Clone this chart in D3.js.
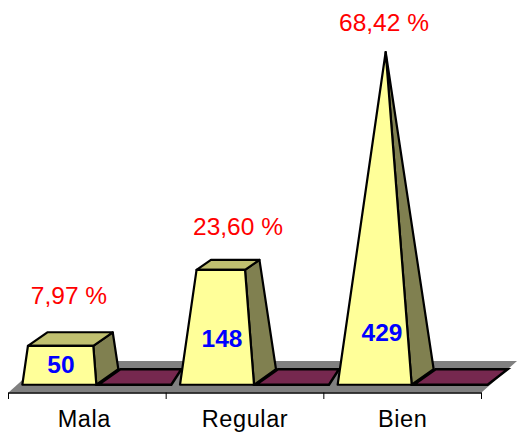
<!DOCTYPE html>
<html>
<head>
<meta charset="utf-8">
<script src="https://cdn.jsdelivr.net/npm/d3@7"></script>
<style>
  html, body { margin: 0; padding: 0; background: #fff; }
  svg { display: block; }
  text { font-family: "Liberation Sans", Arial, sans-serif; }
</style>
</head>
<body>
<div id="chart"></div>
<script>
// chart data
var categories = ["Mala", "Regular", "Bien"];
var counts = [50, 148, 429];
var percents = ["7,97 %", "23,60 %", "68,42 %"];
var emptySeries = [0, 0, 0];

var width = 517, height = 432;

var svg = d3.select("#chart").append("svg")
  .attr("width", width)
  .attr("height", height);

// x positions along the front edge of the floor
var x = d3.scaleBand()
  .domain(categories)
  .range([8.5, 481.5]);

// height above the floor, measured at the middle of the base
var y = d3.scaleLinear()
  .domain([0, 429])
  .range([377, 52]);

// pyramids get narrower going up, the tip is at the max value
var taper = d3.scaleLinear()
  .domain([0, 429])
  .range([1, 0]);

var depthX = 22, depthY = 15.5;   // 3d offset of back edges
var halfW = 37;                   // half of front width
var floorY = 392.5;

var line = function(pts) { return "M" + pts.join("L") + "Z"; };

// floor
svg.append("path")
  .attr("d", line([[8.5, floorY], [43.5, 361], [517, 361], [481.5, floorY]]))
  .attr("fill", "#808080");

svg.append("path")
  .attr("d", "M8.5," + (floorY + 0.5) + "L481.5," + (floorY + 0.5))
  .attr("stroke", "#000")
  .attr("stroke-width", 1.5);

// axis with the labels
var axisNudge = [-3, 0, 0];
var axis = d3.axisBottom(x).tickSize(0).tickPadding(0);
var axisG = svg.append("g")
  .attr("transform", "translate(0,393)")
  .call(axis);
axisG.select(".domain").remove();
axisG.selectAll("text")
  .attr("y", 0)
  .attr("dy", 0)
  .attr("transform", function(d, i) { return "translate(" + axisNudge[i] + ",34)"; })
  .attr("font-size", 23.5)
  .attr("letter-spacing", 0.6)
  .attr("fill", "#000")
  .style("font-family", '"Liberation Sans", Arial, sans-serif');

svg.selectAll(".tick-mark")
  .data([8.5].concat(categories.map(function(c) { return x(c) + x.bandwidth(); })))
  .enter().append("line")
    .attr("class", "tick-mark")
    .attr("x1", function(d) { return d; })
    .attr("x2", function(d) { return d; })
    .attr("y1", floorY)
    .attr("y2", 399)
    .attr("stroke", "#000")
    .attr("stroke-width", 1);

// centre of the base of a pyramid
function baseCx(c) { return x(c) + x.bandwidth() / 2 - 17; }

// second series, all zero, only a flat tile on the floor
svg.append("g").selectAll("path")
  .data(categories)
  .enter().append("path")
    .attr("d", function(c, i) {
      var left = baseCx(c) - depthX / 2 + halfW + 2;
      var b = y(emptySeries[i]) + depthY / 2;
      var w = i == 2 ? 74 : 73;
      return line([[left, b], [left + w, b], [left + w + depthX - (i == 2 ? 2 : 12), b - depthY], [left + depthX, b - depthY]]);
    })
    .attr("fill", "#76284f")
    .attr("stroke", "#000")
    .attr("stroke-width", 2.5)
    .attr("stroke-linejoin", "miter");

// pyramids, corner = base corner pulled towards the axis of the pyramid
function corner(c, v, dx, dy) {
  var t = taper(v);
  return [baseCx(c) + dx * t, y(v) + dy * t];
}

categories.forEach(function(c, i) {
  var v = counts[i];
  var g = svg.append("g")
    .attr("stroke", "#000")
    .attr("stroke-width", 2.2)
    .attr("stroke-linejoin", "round");

  var fl = -halfW - depthX / 2, fr = halfW - depthX / 2;
  var bl = fl + depthX, br = fr + depthX;
  var fy = depthY / 2, by = -depthY / 2;

  // right face
  g.append("path")
    .attr("d", line([corner(c, 0, fr, fy), corner(c, 0, br, by), corner(c, v, br, by), corner(c, v, fr, fy)]))
    .attr("fill", "#808050");
  // top
  g.append("path")
    .attr("d", line([corner(c, v, fl, fy), corner(c, v, fr, fy), corner(c, v, br, by), corner(c, v, bl, by)]))
    .attr("fill", "#c0c070");
  // front
  g.append("path")
    .attr("d", line([corner(c, 0, fl, fy), corner(c, 0, fr, fy), corner(c, v, fr, fy), corner(c, v, fl, fy)]))
    .attr("fill", "#ffff99");
});

// count labels inside the pyramids
var countLabelX = [61, 222, 382];
var countLabelY = [373, 347, 341];
svg.selectAll(".count")
  .data(counts)
  .enter().append("text")
    .attr("class", "count")
    .attr("x", function(d, i) { return countLabelX[i]; })
    .attr("y", function(d, i) { return countLabelY[i]; })
    .attr("text-anchor", "middle")
    .attr("font-size", 24.5)
    .attr("font-weight", "bold")
    .attr("fill", "#0000ff")
    .text(function(d) { return d; });

// percent labels
var pctLabelX = [69, 238, 384];
var pctLabelY = [304, 235, 31];
svg.selectAll(".pct")
  .data(percents)
  .enter().append("text")
    .attr("class", "pct")
    .attr("x", function(d, i) { return pctLabelX[i]; })
    .attr("y", function(d, i) { return pctLabelY[i]; })
    .attr("text-anchor", "middle")
    .attr("font-size", 24.5)
    .attr("fill", "#ff0000")
    .text(function(d) { return d; });
</script>
</body>
</html>
